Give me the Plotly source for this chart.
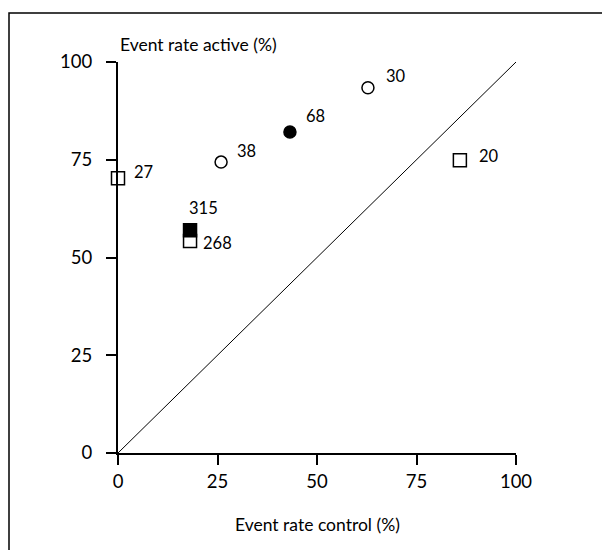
import plotly.graph_objects as go

# Data
sq_open_x = [0.0, 18.1, 85.9]
sq_open_y = [70.3, 54.2, 74.9]
sq_open_lbl = ["27", "268", "20"]

sq_fill_x = [18.1]
sq_fill_y = [57.0]
sq_fill_lbl = ["315"]

ci_open_x = [25.9, 62.8]
ci_open_y = [74.4, 93.4]
ci_open_lbl = ["38", "30"]

ci_fill_x = [43.2]
ci_fill_y = [82.1]
ci_fill_lbl = ["68"]

tick_vals = [0, 25, 50, 75, 100]
tick_text = ["0", "25", "50", "75", "100"]

FONT = "Lato"

fig = go.Figure()

# identity line
fig.add_trace(go.Scatter(x=[0, 100], y=[0, 100], mode="lines",
                         line=dict(color="black", width=1), cliponaxis=False,
                         hoverinfo="skip", showlegend=False))

def add_markers(xs, ys, symbol, fill, size):
    fig.add_trace(go.Scatter(x=xs, y=ys, mode="markers", cliponaxis=False,
                             marker=dict(symbol=symbol, size=size, color=fill,
                                         line=dict(color="black", width=1.5)),
                             showlegend=False))

add_markers(sq_open_x, sq_open_y, "square", "white", 13)
add_markers(sq_fill_x, sq_fill_y, "square", "black", 13)
add_markers(ci_open_x, ci_open_y, "circle", "white", 12)
add_markers(ci_fill_x, ci_fill_y, "circle", "black", 12)

# label offsets (pixels), style only
offsets = {
    "27": (14, 6, "left"),
    "268": (11, -2, "left"),
    "20": (17, 4, "left"),
    "315": (13, 22, "center"),
    "38": (14, 11, "left"),
    "30": (16, 12, "left"),
    "68": (14, 16, "left"),
}
for xs, ys, lbls in [(sq_open_x, sq_open_y, sq_open_lbl), (sq_fill_x, sq_fill_y, sq_fill_lbl),
                     (ci_open_x, ci_open_y, ci_open_lbl), (ci_fill_x, ci_fill_y, ci_fill_lbl)]:
    for x, y, t in zip(xs, ys, lbls):
        dx, dy, anc = offsets[t]
        fig.add_annotation(x=x, y=y, xref="x", yref="y", text=t, showarrow=False,
                           xanchor=anc, yanchor="middle", xshift=dx, yshift=dy,
                           font=dict(family=FONT, size=16.5, color="black"))

# axis titles
fig.add_annotation(x=0, y=(453 - 44) / 391, xref="paper", yref="paper",
                   text="Event rate active (%)", showarrow=False,
                   xanchor="left", yanchor="middle",
                   font=dict(family=FONT, size=17.5, color="black"))
fig.add_annotation(x=0.5, y=(453 - 524) / 391, xref="paper", yref="paper",
                   text="Event rate control (%)", showarrow=False,
                   xanchor="center", yanchor="middle",
                   font=dict(family=FONT, size=17.5, color="black"))

# outer frame (partial)
fx0 = (9 - 118) / 398
fy_top = (453 - 13) / 391
fy_bot = (453 - 560) / 391
fx1 = (610 - 118) / 398
fig.add_shape(type="path", xref="paper", yref="paper",
              path=f"M {fx0} {fy_bot} L {fx0} {fy_top} L {fx1} {fy_top}",
              line=dict(color="black", width=1.5))

axis_common = dict(range=[0, 100], showgrid=False, zeroline=False,
                   showline=True, linecolor="black", linewidth=2,
                   ticks="outside", ticklen=10, tickwidth=2, tickcolor="black",
                   tickvals=tick_vals, ticktext=tick_text,
                   tickfont=dict(family=FONT, size=18.5, color="black"),
                   fixedrange=True)

fig.update_layout(
    width=602, height=550,
    margin=dict(l=118, r=86, t=62, b=97, pad=0),
    paper_bgcolor="white", plot_bgcolor="white",
    xaxis=dict(**axis_common, ticklabelstandoff=1),
    yaxis=dict(**axis_common, ticklabelstandoff=10),
    showlegend=False,
)

fig.write_html("out.html")
